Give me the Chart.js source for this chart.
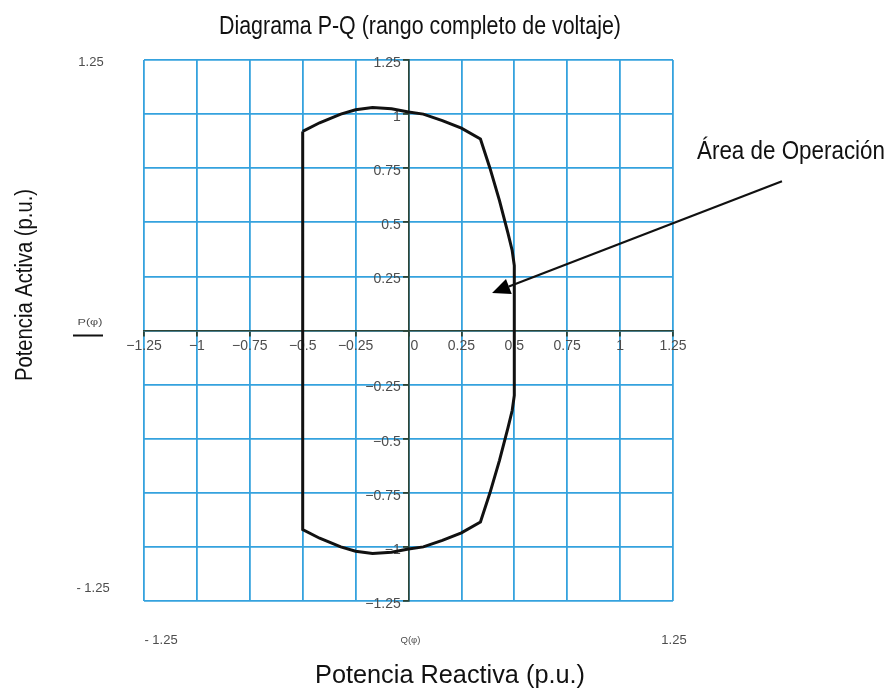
<!DOCTYPE html>
<html>
<head>
<meta charset="utf-8">
<title>Diagrama P-Q</title>
<script src="https://cdn.jsdelivr.net/npm/chart.js@4.4.1/dist/chart.umd.min.js"></script>
<style>
  body { margin: 0; background: #fff; }
  #pqWrap { width: 886px; height: 689px; }
</style>
</head>
<body>
<div id="pqWrap"><canvas id="pqChart" width="886" height="689"></canvas></div>
<script>
// Operating limit of the unit, walked clockwise from the top-left corner.
const qValues = [-0.5, -0.42, -0.32, -0.25, -0.17, -0.08, 0, 0.07, 0.16, 0.25, 0.34,
  0.385, 0.43, 0.47, 0.49, 0.5, 0.5, 0.49, 0.47, 0.43, 0.385, 0.34, 0.25, 0.16,
  0.07, 0, -0.08, -0.17, -0.25, -0.32, -0.42, -0.5, -0.5];
const pValues = [0.92, 0.96, 1.0, 1.02, 1.03, 1.025, 1.01, 1.0, 0.97, 0.935, 0.885,
  0.75, 0.6, 0.45, 0.37, 0.3, -0.3, -0.37, -0.45, -0.6, -0.75, -0.885, -0.935, -0.97,
  -1.0, -1.01, -1.025, -1.03, -1.02, -1.0, -0.96, -0.92, 0.92];

// Axis range and tick step (p.u.).
const axisMin = -1.25;
const axisMax = 1.25;
const tickStep = 0.25;

// Arrow pointing into the operating area (Q, P).
const arrowFrom = [1.765, 0.69];
const arrowTo = [0.395, 0.173];

const chartTitle = "Diagrama P-Q (rango completo de voltaje)";
const xTitle = "Potencia Reactiva (p.u.)";
const yTitle = "Potencia Activa (p.u.)";
const areaLabel = "Área de Operación";

const gridBlue = "#35a2de";
const axisDark = "#2c4436";
const tickGray = "#4d4d4d";

function formatTick(v) {
  // Mathcad style minus sign.
  return (v < 0 ? "\u2212" : "") + Math.abs(v);
}

// Draw text squeezed (or stretched) to a given width.
function drawFitted(ctx, text, x, y, width) {
  const w = ctx.measureText(text).width;
  ctx.save();
  ctx.translate(x, y);
  ctx.scale(width / w, 1);
  ctx.textAlign = "center";
  ctx.fillText(text, 0, 0);
  ctx.restore();
}

const textPlugin = {
  id: "pqText",
  afterDatasetsDraw(chart) {
    const ctx = chart.ctx;
    const xs = chart.scales.x;
    const ys = chart.scales.y;
    const area = chart.chartArea;

    ctx.save();
    ctx.fillStyle = "#111";
    ctx.textBaseline = "alphabetic";

    // Titles.
    ctx.font = "25px 'Liberation Sans', Arial, sans-serif";
    drawFitted(ctx, chartTitle, 420, 34, 402);
    drawFitted(ctx, xTitle, 450, 683, 270);
    drawFitted(ctx, areaLabel, 791, 159, 188);

    ctx.save();
    ctx.font = "23px 'Liberation Sans', Arial, sans-serif";
    ctx.translate(32, 285);
    ctx.rotate(-Math.PI / 2);
    drawFitted(ctx, yTitle, 0, 0, 192);
    ctx.restore();

    // Range labels outside the plot.
    ctx.fillStyle = tickGray;
    ctx.font = "13px 'Liberation Sans', Arial, sans-serif";
    ctx.textBaseline = "middle";
    ctx.textAlign = "center";
    ctx.fillText("1.25", area.left - 53, area.top + 2);
    ctx.fillText("- 1.25", area.left - 51, area.bottom - 13);
    ctx.fillText("- 1.25", area.left + 17, area.bottom + 39);
    ctx.fillText("1.25", area.right + 1, area.bottom + 39);

    ctx.font = "9px 'Liberation Sans', Arial, sans-serif";
    drawFitted(ctx, "Q(\u03c6)", xs.getPixelForValue(0) + 2, area.bottom + 40, 20);
    drawFitted(ctx, "P(\u03c6)", 90, ys.getPixelForValue(0) - 8, 25);

    // Legend stroke under P(φ).
    ctx.strokeStyle = "#111";
    ctx.lineWidth = 2;
    ctx.beginPath();
    ctx.moveTo(73, ys.getPixelForValue(0) + 5);
    ctx.lineTo(103, ys.getPixelForValue(0) + 5);
    ctx.stroke();

    // Arrow into the operating area.
    const x1 = xs.getPixelForValue(arrowFrom[0]);
    const y1 = ys.getPixelForValue(arrowFrom[1]);
    const x2 = xs.getPixelForValue(arrowTo[0]);
    const y2 = ys.getPixelForValue(arrowTo[1]);
    const ang = Math.atan2(y2 - y1, x2 - x1);
    const headLen = 18;
    const headHalf = 8;
    const bx = x2 - headLen * Math.cos(ang);
    const by = y2 - headLen * Math.sin(ang);

    ctx.lineWidth = 2.2;
    ctx.beginPath();
    ctx.moveTo(x1, y1);
    ctx.lineTo(bx, by);
    ctx.stroke();

    ctx.fillStyle = "#000";
    ctx.beginPath();
    ctx.moveTo(x2, y2);
    ctx.lineTo(bx + headHalf * Math.sin(ang), by - headHalf * Math.cos(ang));
    ctx.lineTo(bx - headHalf * Math.sin(ang), by + headHalf * Math.cos(ang));
    ctx.closePath();
    ctx.fill();

    ctx.restore();
  }
};

var ctx = document.querySelector("#pqChart").getContext("2d");
var chart = new Chart(ctx, {
  type: "scatter",
  data: {
    datasets: [{
      label: "P(\u03c6)",
      data: qValues.map(function (q, i) {
        return { x: q, y: pValues[i] };
      }),
      showLine: true,
      borderColor: "#111",
      borderWidth: 3,
      pointRadius: 0,
      tension: 0,
      fill: false
    }]
  },
  options: {
    responsive: false,
    animation: false,
    layout: {
      padding: { left: 144, right: 213, top: 60, bottom: 88 }
    },
    plugins: {
      legend: { display: false },
      tooltip: { enabled: false }
    },
    scales: {
      x: {
        type: "linear",
        min: axisMin,
        max: axisMax,
        position: { y: 0 },
        grid: {
          color: gridBlue,
          lineWidth: 1.8,
          tickColor: axisDark,
          tickLength: 5
        },
        border: { color: axisDark, width: 1.6 },
        ticks: {
          stepSize: tickStep,
          autoSkip: false,
          maxRotation: 0,
          padding: 2,
          color: tickGray,
          font: { family: "'Liberation Sans', Arial, sans-serif", size: 14 },
          callback: function (v) {
            return v === 0 ? "   0" : formatTick(v);
          }
        }
      },
      y: {
        type: "linear",
        min: axisMin,
        max: axisMax,
        position: { x: 0 },
        grid: {
          color: gridBlue,
          lineWidth: 1.8,
          tickColor: axisDark,
          tickLength: 5
        },
        border: { color: axisDark, width: 1.6 },
        ticks: {
          stepSize: tickStep,
          autoSkip: false,
          labelOffset: 3,
          color: tickGray,
          font: { family: "'Liberation Sans', Arial, sans-serif", size: 14 },
          // Trailing spaces keep the labels clear of the axis line.
          callback: function (v) {
            return v === 0 ? "" : formatTick(v) + "  ";
          }
        }
      }
    }
  },
  plugins: [textPlugin]
});
</script>
</body>
</html>
